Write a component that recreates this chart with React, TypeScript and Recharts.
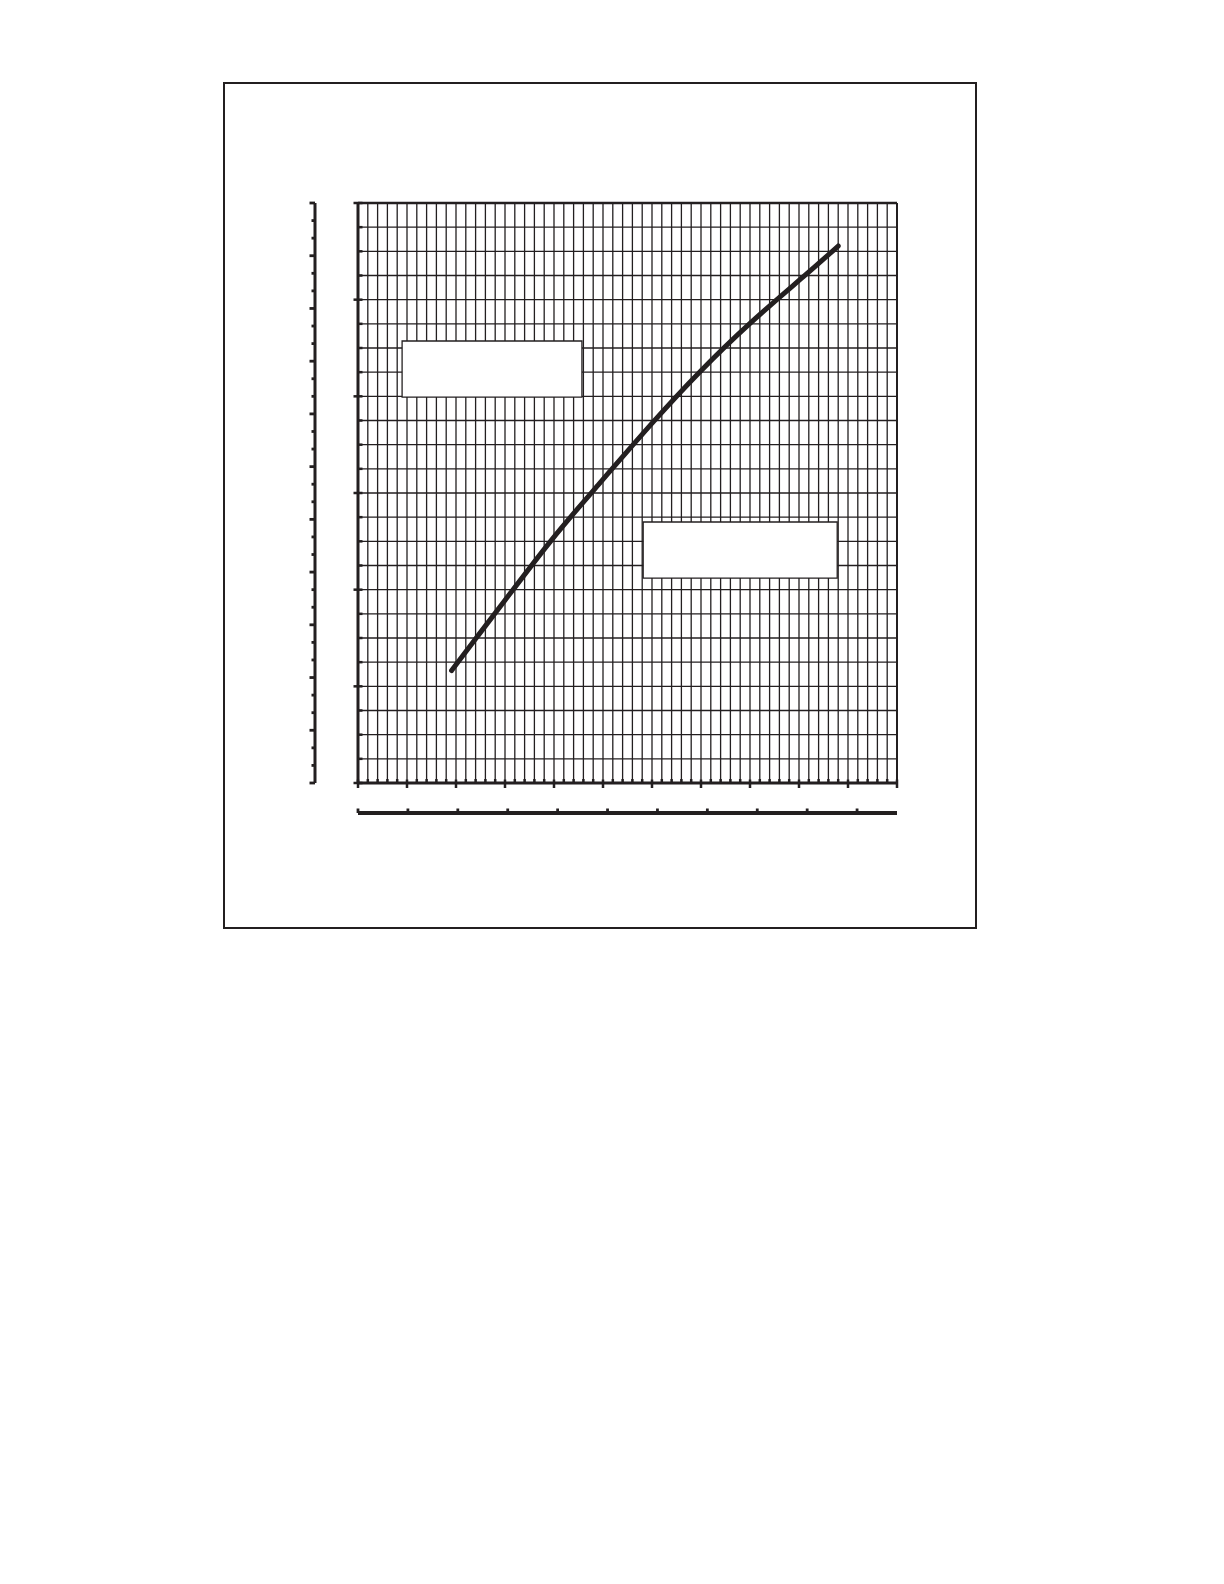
import React from 'react';
import { LineChart, Line, XAxis, YAxis, CartesianGrid, ReferenceLine, ReferenceArea } from 'recharts';

const INK = '#231f20';

// curve readings (main x units 0-110, main y units 0-240)
const X_VALUES = [19.1, 24.2, 30, 39.2, 48.7, 60.3, 69.8, 80, 90.9, 98];
const Y_VALUES = [46.5, 60.2, 75.6, 99.8, 122.6, 149.5, 170.2, 190.2, 209.5, 222.2];

// axis ticks
const X_TICKS = Array.from({ length: 56 }, (_, i) => i * 2);
const Y_TICKS = Array.from({ length: 25 }, (_, i) => i * 10);
const AUX_Y_TICKS = Array.from({ length: 34 }, (_, i) => i);
const AUX_X_TICKS = [0, 1, 2, 3, 4, 5, 6, 7, 8, 9, 10];
// secondary bottom scale spans 10.8 of its units over the main 0-110 range
const AUX_X_MAX = 10.8;

// blank label boxes
const BOX_A = { x1: 9, x2: 45.7, y1: 159.7, y2: 182.9 };
const BOX_B = { x1: 58.2, x2: 97.8, y1: 84.8, y2: 108 };

const data = X_VALUES.map((x, i) => ({ x, y: Y_VALUES[i] }));
const auxXTickPos = AUX_X_TICKS.map((v) => (v * 110) / AUX_X_MAX);

const MainXTick = (props: any) => {
  const { x, y, payload } = props;
  const major = payload.value % 10 === 0;
  return major
    ? <line x1={x} x2={x} y1={y - 3.5} y2={y + 5} stroke={INK} strokeWidth={2.5} />
    : <line x1={x} x2={x} y1={y - 4} y2={y} stroke={INK} strokeWidth={2.5} />;
};

const MainYTick = (props: any) => {
  const { x, y, payload } = props;
  const major = payload.value % 40 === 0;
  return major
    ? <line x1={x - 4.5} x2={x + 4.5} y1={y} y2={y} stroke={INK} strokeWidth={2.5} />
    : <line x1={x} x2={x + 4.5} y1={y} y2={y} stroke={INK} strokeWidth={2.5} />;
};

const AuxYTick = (props: any) => {
  const { x, y, payload } = props;
  const major = payload.value % 3 === 0;
  return <line x1={x - (major ? 5.5 : 3.5)} x2={x} y1={y} y2={y} stroke={INK} strokeWidth={2.8} />;
};

const AuxXTick = (props: any) => {
  const { x, y } = props;
  return <line x1={x} x2={x} y1={y - 4.5} y2={y} stroke={INK} strokeWidth={2.8} />;
};

export default function App() {
  return (
    <div style={{ position: 'absolute', left: 0, top: 0, width: 1224, height: 1584, background: '#fff' }}>
      <div
        style={{
          position: 'absolute', left: 223, top: 82, width: 754, height: 847,
          border: `2px solid ${INK}`, boxSizing: 'border-box',
        }}
      />
      <div style={{ position: 'absolute', left: 0, top: 0 }}>
        <LineChart width={1000} height={900} data={data} margin={{ top: 203, right: 103, bottom: 67, left: 295 }}>
          <CartesianGrid xAxisId="a" yAxisId="a" stroke={INK} strokeWidth={1.3} />
          <XAxis
            xAxisId="b" type="number" dataKey="x" domain={[0, 110]} ticks={auxXTickPos} interval={0} allowDataOverflow
            height={20} tickSize={0} tickMargin={0} tickLine={false}
            axisLine={{ stroke: INK, strokeWidth: 4 }} tick={AuxXTick}
          />
          <XAxis
            xAxisId="a" type="number" dataKey="x" domain={[0, 110]} ticks={X_TICKS} interval={0}
            height={30} tickSize={0} tickMargin={0} tickLine={false}
            axisLine={{ stroke: INK, strokeWidth: 3 }} tick={MainXTick}
          />
          <YAxis
            yAxisId="b" type="number" domain={[0, 33]} ticks={AUX_Y_TICKS} interval={0} allowDataOverflow
            width={20} tickSize={0} tickMargin={0} tickLine={false}
            axisLine={{ stroke: INK, strokeWidth: 3 }} tick={AuxYTick}
          />
          <YAxis
            yAxisId="a" type="number" domain={[0, 240]} ticks={Y_TICKS} interval={0}
            width={43} tickSize={0} tickMargin={0} tickLine={false}
            axisLine={{ stroke: INK, strokeWidth: 3 }} tick={MainYTick}
          />
          <ReferenceLine xAxisId="a" yAxisId="a" y={240} stroke={INK} strokeWidth={2.5} />
          <ReferenceLine xAxisId="a" yAxisId="a" x={110} stroke={INK} strokeWidth={2} />
          <ReferenceArea xAxisId="a" yAxisId="a" {...BOX_A} fill="#fff" fillOpacity={1} stroke={INK} strokeWidth={1.3} />
          <ReferenceArea xAxisId="a" yAxisId="a" {...BOX_B} fill="#fff" fillOpacity={1} stroke={INK} strokeWidth={1.3} />
          <Line
            xAxisId="a" yAxisId="a" type="natural" dataKey="y" stroke={INK} strokeWidth={5}
            strokeLinecap="round" dot={false} activeDot={false} isAnimationActive={false}
          />
        </LineChart>
      </div>
    </div>
  );
}
